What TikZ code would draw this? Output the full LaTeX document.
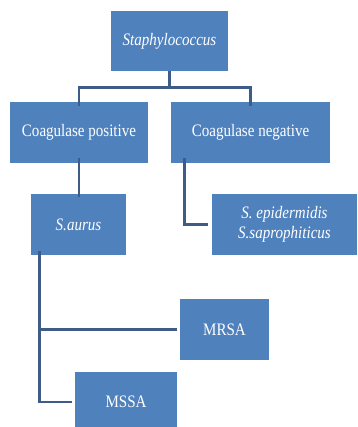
\documentclass[tikz,border=0pt]{standalone}
\usepackage{fontspec}
\setmainfont{Liberation Serif}[FakeStretch=0.86]

\definecolor{boxblue}{RGB}{79,129,189}
\definecolor{lineblue}{RGB}{62,92,134}

\tikzset{every picture/.style={line width=0.75pt}}
\tikzset{
  genus/.style={draw=none, fill=boxblue, text=white, inner sep=0.75pt, align=center,
    font=\fontsize{17.5}{20}\selectfont},
  link/.style={draw=lineblue, line width=2.5pt}
}

\begin{document}
\begin{tikzpicture}[x=1pt,y=1pt,yscale=-1,xscale=1]
\useasboundingbox (0,0) rectangle (357,427);

% Boxes
\node [genus, minimum width=117, minimum height=60] (staph) at (169.5,41) {\itshape Staphylococcus};
\node [genus, minimum width=138, minimum height=61] (cpos) at (79,132.5) {Coagulase positive};
\node [genus, minimum width=159, minimum height=61] (cneg) at (250.5,132.5) {Coagulase negative};
\node [genus, minimum width=95, minimum height=61] (saurus) at (78.5,224.5) {\itshape S.aurus};
\node [genus, minimum width=145, minimum height=61] (sepi) at (284.5,224.5) {\itshape S. epidermidis\\ \itshape S.saprophiticus};
\node [genus, minimum width=89, minimum height=61] (mrsa) at (224.5,329.5) {MRSA};
\node [genus, minimum width=102, minimum height=60] (mssa) at (126,402) {MSSA};

% Staphylococcus -> coagulase
\draw [link] (staph.south) -- ++(0,16) coordinate (fork);
\draw [link] ([yshift=4pt]cpos.north) |- (fork) -| ([yshift=4pt]cneg.north);

% Coagulase positive -> S.aurus
\draw [link] ([yshift=-5pt]cpos.south) -- ([yshift=3pt]cpos.south |- saurus.north);

% Coagulase negative -> S. epidermidis
\draw [link] ([xshift=14pt,yshift=-5pt]cneg.south west) |- ([xshift=-4pt]sepi.west);

% S.aurus -> MRSA, MSSA
\coordinate (trunk) at ([xshift=9pt,yshift=-4pt]saurus.south west);
\draw [link] (trunk) |- ([xshift=-3pt]mssa.west);
\draw [link] (trunk |- mrsa.west) -- ([xshift=-3pt]mrsa.west);

\end{tikzpicture}
\end{document}
